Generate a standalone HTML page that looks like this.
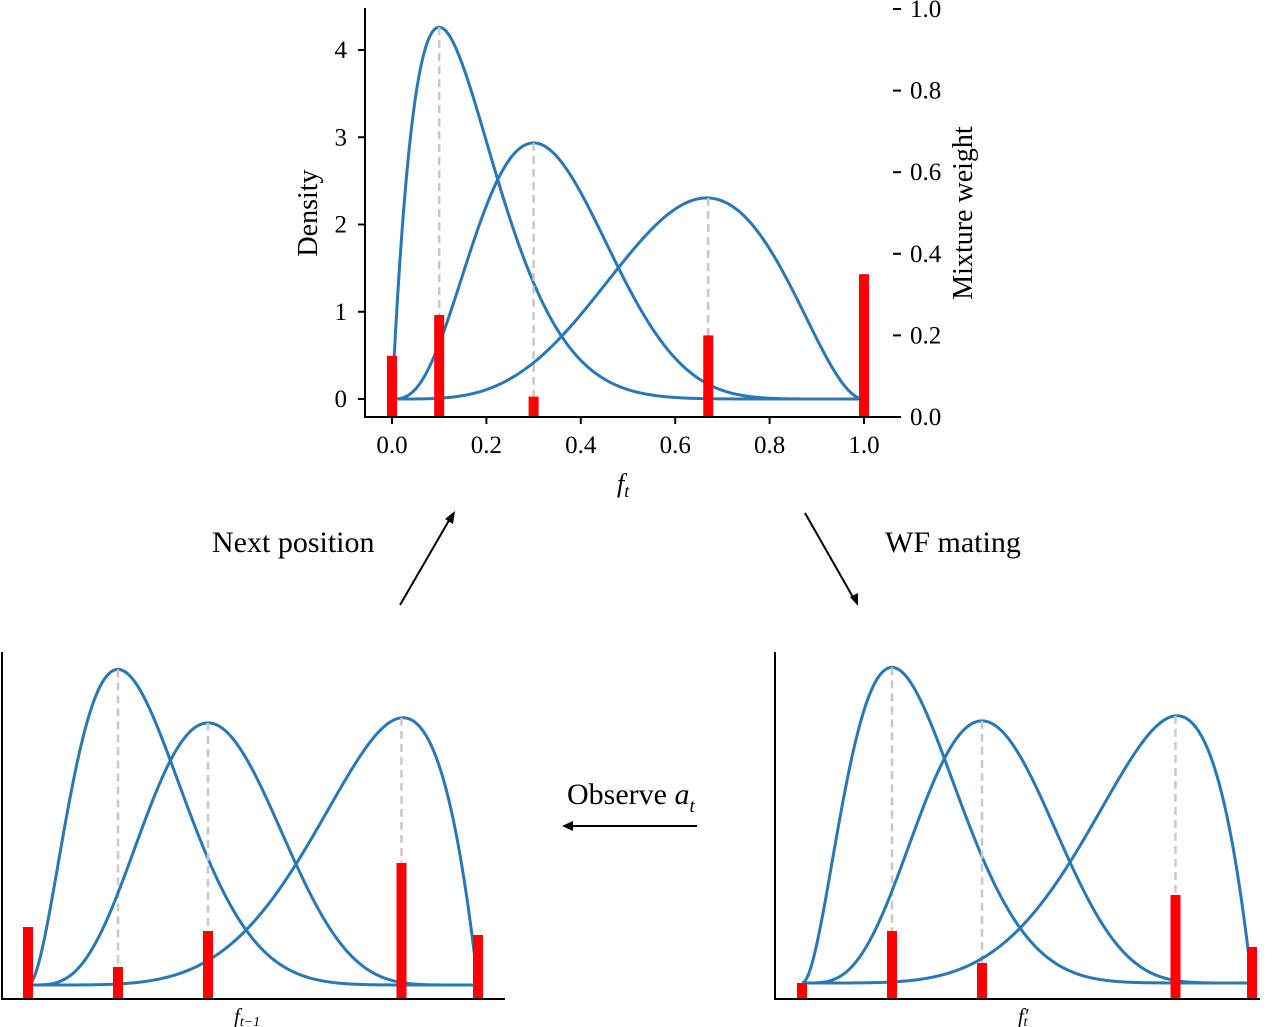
<!DOCTYPE html>
<html><head><meta charset="utf-8"><style>
body{margin:0;background:#fff}
svg{display:block;font-family:"Liberation Serif",serif}
</style></head><body>
<svg id="fig" width="1280" height="1027" viewBox="0 0 1280 1027">
<g id="topG"></g>
<g id="bl"></g>
<g id="br"></g>
<g>
<text x="212" y="552" font-size="30">Next position</text>
<line x1="400" y1="605" x2="451" y2="517" stroke="#000" stroke-width="2"/>
<polygon points="455,511 453,524 445,519" fill="#000"/>
<text x="885" y="552" font-size="30">WF mating</text>
<line x1="805" y1="513" x2="854" y2="599" stroke="#000" stroke-width="2"/>
<polygon points="858,606 850,597 858,593" fill="#000"/>
<text x="567" y="804" font-size="30">Observe <tspan font-style="italic">a</tspan><tspan font-style="italic" font-size="19" dy="8">t</tspan></text>
<line x1="697" y1="826" x2="570" y2="826" stroke="#000" stroke-width="2"/>
<polygon points="562,826 573,821 573,831" fill="#000"/>
</g>
</svg>
<script>
// top chart data
const topModes=[0.1,0.3,0.67];
const topAlpha=[2,4,5];
const topBeta=[10,8,3];
const topWeightPos=[0,0.1,0.3,0.67,1.0];
const topWeights=[0.15,0.25,0.05,0.2,0.35];
const xTicks=[0,0.2,0.4,0.6,0.8,1.0];
const xTickLabels=["0.0","0.2","0.4","0.6","0.8","1.0"];
const yTicks=[0,1,2,3,4];
const y2Ticks=[0,0.2,0.4,0.6,0.8,1.0];
const y2TickLabels=["0.0","0.2","0.4","0.6","0.8","1.0"];
// bottom charts data
const botModes=[0.2,0.4,0.83];
const botAlpha=[3,5,6];
const botBeta=[9,7,2];
const botWeightPos=[0,0.2,0.4,0.83,1.0];
const leftWeights=[0.18,0.08,0.17,0.34,0.16];
const rightWeights=[0.04,0.17,0.09,0.26,0.13];

const NS="http://www.w3.org/2000/svg";
function mk(parent,tag,attrs,txt){const e=document.createElementNS(NS,tag);for(const k in attrs)e.setAttribute(k,attrs[k]);if(txt!==undefined)e.textContent=txt;parent.appendChild(e);return e;}
function lgamma(n){let r=0;for(let i=2;i<n;i++)r+=Math.log(i);return r;}
function betaPdf(x,a,b){if(x<=0||x>=1)return 0;return Math.exp(lgamma(a+b)-lgamma(a)-lgamma(b)+(a-1)*Math.log(x)+(b-1)*Math.log(1-x));}

function drawPanel(g,cfg){
  const X=v=>cfg.x0+v*cfg.xs, Y=v=>cfg.y0-v*cfg.ys, W=v=>cfg.w0-v*cfg.ws;
  cfg.alpha.forEach((a,i)=>{
    const b=cfg.beta[i];let d="";
    for(let k=0;k<=300;k++){const t=k/300;d+=(k?"L":"M")+X(t).toFixed(2)+","+Y(betaPdf(t,a,b)).toFixed(2);}
    const p=mk(g,"path",{d:d,fill:"none",stroke:"#2878b5","stroke-width":3});
    
    
    const m=cfg.modes[i];
    const l=mk(g,"line",{x1:X(m),x2:X(m),y1:Y(betaPdf(m,a,b)),y2:cfg.w0,stroke:"#c8c8c8","stroke-width":2.5,"stroke-dasharray":"8,5"});
    
    
  });
  cfg.wpos.forEach((p,i)=>{
    const r=mk(g,"rect",{x:X(p)-5,y:W(cfg.weights[i]),width:10,height:cfg.w0-W(cfg.weights[i]),fill:"#ff0000"});
    
    
  });
}

// top
const TX0=392, TXS=472;
const topG=document.getElementById("topG");
drawPanel(topG,{x0:TX0,xs:TXS,y0:399,ys:87.25,w0:417,ws:408,alpha:topAlpha,beta:topBeta,modes:topModes,wpos:topWeightPos,weights:topWeights});
mk(topG,"line",{x1:365,y1:8,x2:365,y2:418,stroke:"#000","stroke-width":2});
mk(topG,"line",{x1:364,y1:417,x2:901,y2:417,stroke:"#000","stroke-width":2});
xTicks.forEach((t,i)=>{const x=TX0+t*TXS;mk(topG,"line",{x1:x,x2:x,y1:417,y2:424,stroke:"#000","stroke-width":2});
  const e=mk(topG,"text",{x:x,y:453,"font-size":25,"text-anchor":"middle"},xTickLabels[i]);
  });
yTicks.forEach(t=>{const y=399-t*87.25;mk(topG,"line",{x1:358,x2:365,y1:y,y2:y,stroke:"#000","stroke-width":2});
  const e=mk(topG,"text",{x:347,y:y+8,"font-size":25,"text-anchor":"end"},String(t));
  });
y2Ticks.forEach((t,i)=>{const y=417-t*408;mk(topG,"line",{x1:893,x2:901,y1:y,y2:y,stroke:"#000","stroke-width":2});
  const e=mk(topG,"text",{x:910,y:y+8,"font-size":25},y2TickLabels[i]);
  });
let e=mk(topG,"text",{x:317,y:213,"font-size":28,"text-anchor":"middle",transform:"rotate(-90 317 213)"},"Density");

e=mk(topG,"text",{x:972,y:213,"font-size":28,"text-anchor":"middle",transform:"rotate(-90 972 213)"},"Mixture weight");

e=mk(topG,"text",{x:617,y:492,"font-size":26,"font-style":"italic"},"f");

mk(e,"tspan",{dy:5,"font-size":18},"t");

// bottom left
const bl=document.getElementById("bl");
drawPanel(bl,{x0:28,xs:450,y0:985,ys:95,w0:999,ws:400,alpha:botAlpha,beta:botBeta,modes:botModes,wpos:botWeightPos,weights:leftWeights});
mk(bl,"line",{x1:2,y1:652,x2:2,y2:1000,stroke:"#000","stroke-width":2});
mk(bl,"line",{x1:1,y1:999,x2:505,y2:999,stroke:"#000","stroke-width":2});
e=mk(bl,"text",{x:234,y:1023,"font-size":21,"font-style":"italic"},"f");

mk(e,"tspan",{dy:3,"font-size":14},"t−1");

// bottom right
const br=document.getElementById("br");
drawPanel(br,{x0:802,xs:450,y0:983,ys:95,w0:999,ws:400,alpha:botAlpha,beta:botBeta,modes:botModes,wpos:botWeightPos,weights:rightWeights});
mk(br,"line",{x1:775,y1:652,x2:775,y2:1000,stroke:"#000","stroke-width":2});
mk(br,"line",{x1:774,y1:999,x2:1260,y2:999,stroke:"#000","stroke-width":2});
e=mk(br,"text",{x:1018,y:1023,"font-size":21,"font-style":"italic"},"f′");

mk(e,"tspan",{dy:3,dx:-5,"font-size":14},"t");
</script>
</body></html>
